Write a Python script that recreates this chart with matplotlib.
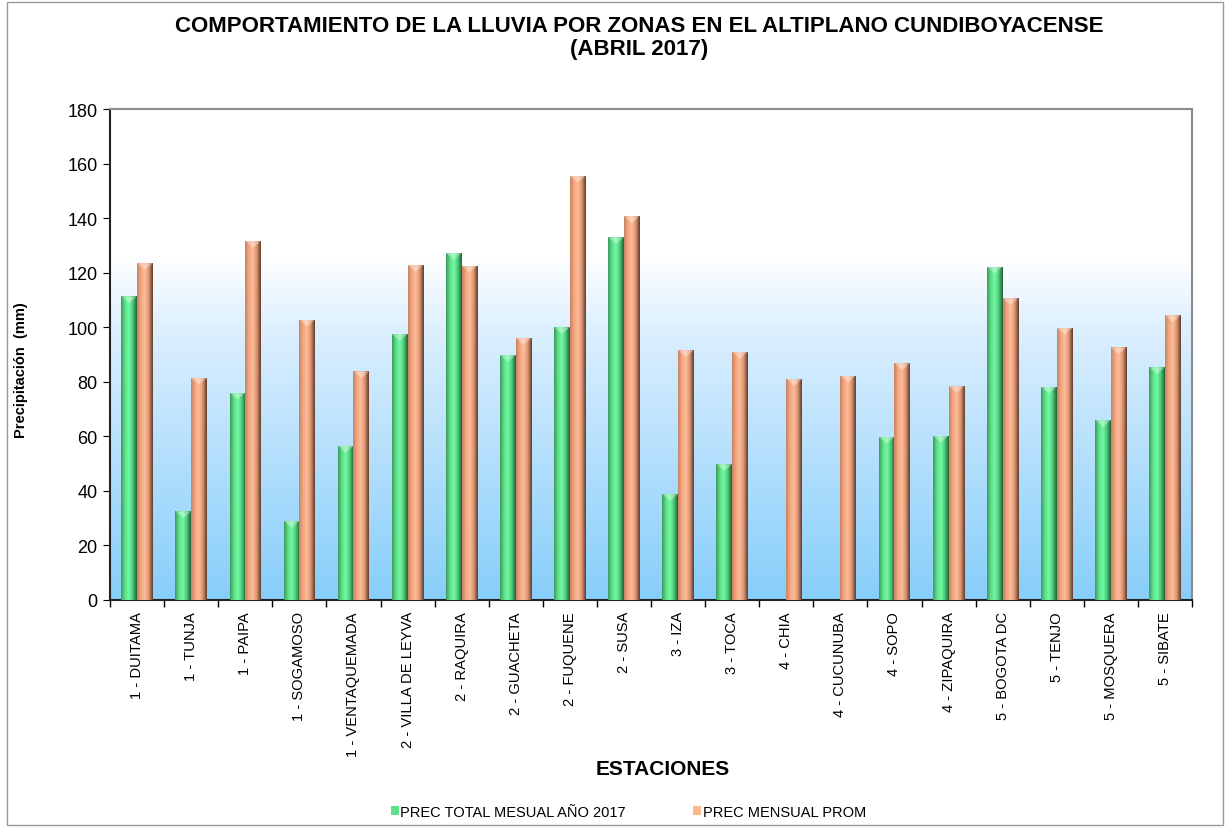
import numpy as np
import matplotlib
matplotlib.use('Agg')
import matplotlib.pyplot as plt
from matplotlib.colors import LinearSegmentedColormap
from matplotlib.patches import Rectangle

plt.rcParams['font.family'] = ['Liberation Sans', 'DejaVu Sans']

# Data
estaciones = ['1 - DUITAMA', '1 - TUNJA', '1 - PAIPA', '1 - SOGAMOSO', '1 - VENTAQUEMADA',
              '2 - VILLA DE LEYVA', '2 - RAQUIRA', '2 - GUACHETA', '2 - FUQUENE', '2 - SUSA',
              '3 - IZA', '3 - TOCA', '4 - CHIA', '4 - CUCUNUBA', '4 - SOPO',
              '4 - ZIPAQUIRA', '5 - BOGOTA DC', '5 - TENJO', '5 - MOSQUERA', '5 - SIBATE']
prec_2017 = [111.3, 32.5, 76.0, 29.0, 56.5, 97.5, 127.2, 89.8, 100.0, 133.0,
             38.8, 49.8, 0.0, 0.0, 59.8, 60.2, 122.2, 78.2, 66.0, 85.3]
prec_prom = [123.5, 81.4, 131.6, 102.8, 83.8, 122.8, 122.6, 96.0, 155.5, 140.7,
             91.6, 91.0, 81.0, 82.3, 86.8, 78.4, 110.6, 99.8, 92.6, 104.4]

fig = plt.figure(figsize=(12.25, 8.28), dpi=100)
ax = fig.add_axes([0.0898, 0.2742, 0.8833, 0.5929])

# figure border
fig.patches.append(Rectangle((0.006, 0.002), 0.992, 0.994, transform=fig.transFigure,
                             fill=False, edgecolor='#9a9a9a', linewidth=1))

x = np.arange(len(estaciones))
w = 0.29

# background gradient (white at top, light blue at bottom)
bg = LinearSegmentedColormap.from_list('bg', [(0.0, '#87cefa'), (0.55, '#dcefff'),
                                              (0.70, '#ffffff'), (1.0, '#ffffff')])
grad = np.linspace(0, 1, 256).reshape(-1, 1)
ax.imshow(grad, cmap=bg, aspect='auto', origin='lower', extent=[0, 1, 0, 1],
          transform=ax.transAxes, zorder=0)

green_cm = LinearSegmentedColormap.from_list('g', ['#3a9a58', '#5fe08c', '#72fba2', '#4cc878', '#245c36'])
orange_cm = LinearSegmentedColormap.from_list('o', ['#c8825f', '#f2a882', '#ffbc98', '#d99470', '#5e3a2a'])
hgrad = np.linspace(0, 1, 64).reshape(1, -1)

b1 = ax.bar(x - w / 2, prec_2017, w, color='#5fe08c', zorder=2,
            label='PREC TOTAL MESUAL AÑO 2017')
b2 = ax.bar(x + w / 2, prec_prom, w, color='#ffb58e', zorder=2,
            label='PREC MENSUAL PROM')

for bars, cm in [(b1, green_cm), (b2, orange_cm)]:
    for p in bars:
        if p.get_height() <= 0:
            continue
        x0, y0 = p.get_x(), p.get_y()
        bw, bh = p.get_width(), p.get_height()
        im = ax.imshow(hgrad, cmap=cm, aspect='auto', extent=[x0, x0 + bw, y0, y0 + bh],
                       zorder=3, interpolation='bicubic')
        im.set_clip_path(p)
        # top bevel
        ax.fill([x0, x0 + bw, x0 + bw / 2], [y0 + bh, y0 + bh, y0 + bh - 2.5],
                color='white', alpha=0.35, zorder=4, lw=0)

ax.set_xlim(-0.5, len(estaciones) - 0.5)
ax.set_ylim(0, 180)
ax.set_yticks(range(0, 181, 20))
ax.set_xticks(np.arange(-0.5, len(estaciones), 1), minor=False)
ax.set_xticklabels([])
ax.set_xticks(x, minor=True)
ax.set_xticklabels(estaciones, minor=True, rotation=90, fontsize=10.6)
ax.tick_params(axis='x', which='minor', length=0, pad=8)
ax.tick_params(axis='x', which='major', length=5, width=1, direction='out')
ax.tick_params(axis='y', labelsize=13, length=5, direction='out', pad=4)

for s in ['top', 'right']:
    ax.spines[s].set_color('#8c8c8c')
    ax.spines[s].set_linewidth(1.5)
for s in ['left', 'bottom']:
    ax.spines[s].set_color('#222222')
    ax.spines[s].set_linewidth(1.5)

ax.set_ylabel('Precipitación  (mm)', fontsize=10.5, fontweight='bold')
ax.yaxis.set_label_coords(-0.0756, 0.47)
ax.set_xlabel('ESTACIONES', fontsize=15, fontweight='bold')
ax.xaxis.set_label_coords(0.511, -0.324)

fig.text(0.5216, 1 - 16 / 828, 'COMPORTAMIENTO DE LA LLUVIA POR ZONAS EN EL ALTIPLANO CUNDIBOYACENSE\n(ABRIL 2017)',
         ha='center', va='top', fontsize=16, fontweight='bold', linespacing=1.1)

leg = fig.legend(handles=[b1, b2], loc='lower center', bbox_to_anchor=(0.513, -0.006),
                 ncol=2, frameon=False, fontsize=10.5, handlelength=0.55, handleheight=0.55,
                 handletextpad=0.1, columnspacing=4.6)

fig.savefig('out.png', dpi=100)
